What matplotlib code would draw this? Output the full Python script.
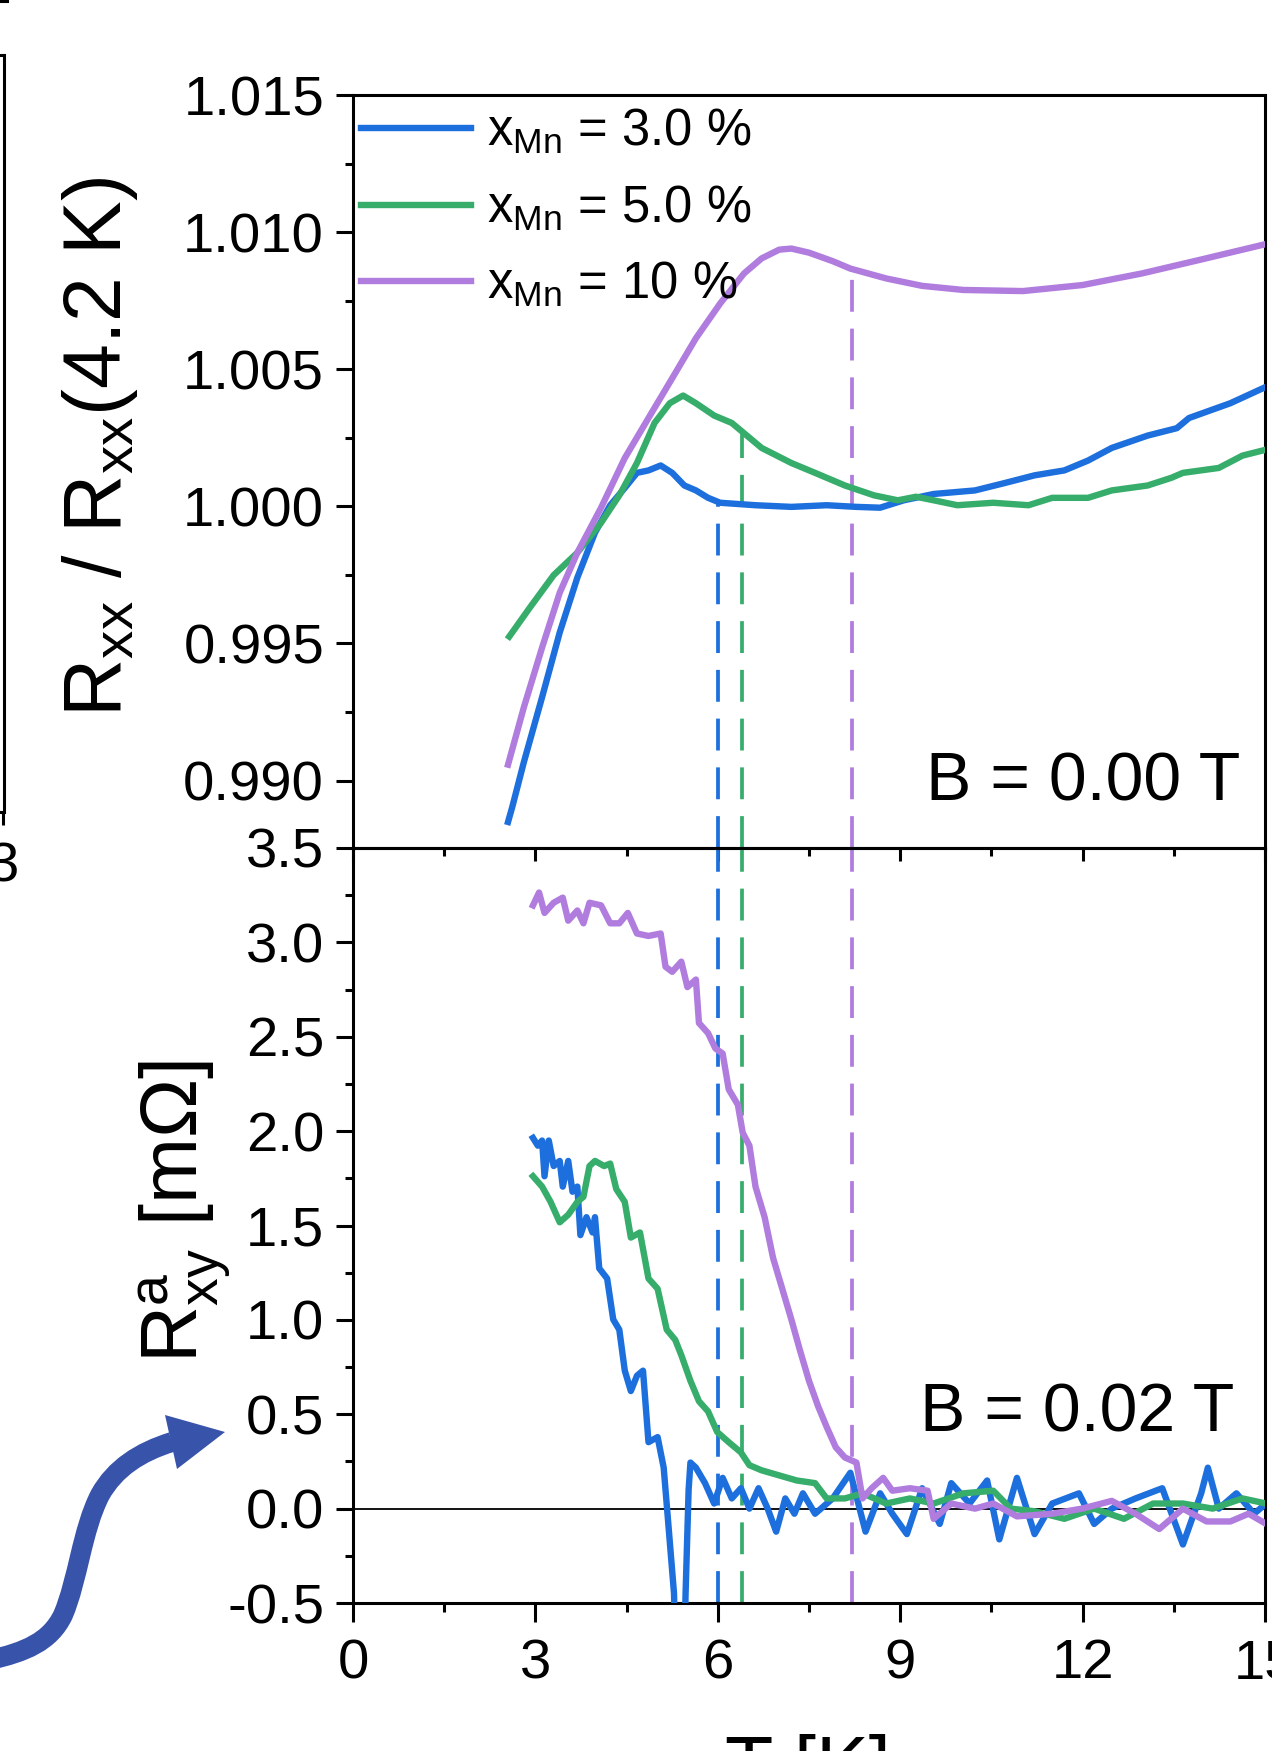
import numpy as np
import matplotlib
matplotlib.use('Agg')
import matplotlib.pyplot as plt
from matplotlib.path import Path
from matplotlib.patches import PathPatch, Polygon
from matplotlib.lines import Line2D
from matplotlib.ticker import FixedLocator, MultipleLocator, FormatStrFormatter

plt.rcParams['font.family'] = ['Liberation Sans', 'DejaVu Sans']
plt.rcParams['mathtext.fontset'] = 'custom'
plt.rcParams['mathtext.rm'] = 'Liberation Sans'
plt.rcParams['axes.unicode_minus'] = False

# ---------------- data ----------------
labels = [r'$\mathregular{x_{Mn}}$ = 3.0 %', r'$\mathregular{x_{Mn}}$ = 5.0 %', r'$\mathregular{x_{Mn}}$ = 10 %']
colors = ['#1c6fdc', '#37ad6b', '#b07cde']
Tc = [6.0, 6.4, 8.2]

# upper panel: Rxx / Rxx(4.2 K)
T_b_top = [2.55, 2.62, 2.81, 3.11, 3.40, 3.69, 3.98, 4.23, 4.47, 4.67, 4.86, 5.06, 5.25, 5.45, 5.64,
           5.84, 6.04, 6.62, 7.21, 7.79, 8.28, 8.67, 9.06, 9.55, 10.23, 10.72, 11.21, 11.70, 12.09,
           12.48, 13.07, 13.55, 13.75, 14.43, 14.97]
R_b_top = [0.98849, 0.98904, 0.99067, 0.99304, 0.99540, 0.99740, 0.99904, 1.00004, 1.00067, 1.00122,
           1.00131, 1.00149, 1.00122, 1.00076, 1.00058, 1.00031, 1.00013, 1.00004, 0.99998, 1.00004,
           0.99998, 0.99995, 1.00022, 1.00045, 1.00058, 1.00085, 1.00113, 1.00131, 1.00167, 1.00213,
           1.00258, 1.00285, 1.00322, 1.00376, 1.00431]

T_g_top = [2.57, 2.91, 3.30, 3.69, 4.08, 4.38, 4.67, 4.96, 5.21, 5.43, 5.64, 5.94, 6.23, 6.43, 6.72,
           7.21, 7.60, 8.09, 8.57, 8.96, 9.26, 9.55, 9.94, 10.53, 11.11, 11.50, 12.09, 12.48, 13.07,
           13.46, 13.65, 14.24, 14.63, 14.97]
R_g_top = [0.99525, 0.99631, 0.99749, 0.99831, 0.99940, 1.00040, 1.00158, 1.00304, 1.00376, 1.00404,
           1.00376, 1.00331, 1.00304, 1.00267, 1.00213, 1.00158, 1.00122, 1.00076, 1.00040, 1.00022,
           1.00035, 1.00022, 1.00004, 1.00013, 1.00004, 1.00031, 1.00031, 1.00058, 1.00076, 1.00104,
           1.00122, 1.00140, 1.00185, 1.00204]

T_p_top = [2.55, 2.81, 3.11, 3.40, 3.69, 4.08, 4.47, 4.86, 5.25, 5.64, 6.04, 6.43, 6.72, 7.01, 7.21,
           7.50, 7.89, 8.18, 8.77, 9.36, 10.04, 11.02, 12.00, 12.97, 13.95, 14.97]
R_p_top = [0.99058, 0.99267, 0.99485, 0.99685, 0.99831, 0.99995, 1.00176, 1.00322, 1.00467, 1.00613,
           1.00740, 1.00849, 1.00904, 1.00936, 1.00940, 1.00925, 1.00894, 1.00867, 1.00831, 1.00804,
           1.00789, 1.00785, 1.00807, 1.00849, 1.00900, 1.00954]

# lower panel: anomalous Hall resistance [mOhm]
T_b_bot = [2.96, 3.04, 3.11, 3.15, 3.22, 3.30, 3.40, 3.45, 3.54, 3.61, 3.69, 3.74, 3.84, 3.94, 3.98,
           4.05, 4.18, 4.28, 4.38, 4.47, 4.57, 4.67, 4.77, 4.86, 5.01, 5.11, 5.20, 5.28, 5.31, 5.44,
           5.47, 5.52, 5.55, 5.64, 5.79, 5.94, 6.08, 6.23, 6.38, 6.52, 6.67, 6.82, 6.96, 7.11, 7.26,
           7.40, 7.60, 7.89, 8.18, 8.43, 8.67, 8.87, 9.11, 9.36, 9.65, 9.84, 10.14, 10.43, 10.63,
           10.92, 11.21, 11.50, 11.94, 12.19, 12.48, 12.87, 13.31, 13.65, 13.95, 14.06, 14.24, 14.53,
           14.82, 15.02]
R_b_bot = [1.964, 1.923, 1.950, 1.761, 1.950, 1.815, 1.842, 1.706, 1.842, 1.679, 1.706, 1.449, 1.544,
           1.463, 1.544, 1.273, 1.219, 1.002, 0.948, 0.731, 0.623, 0.704, 0.731, 0.352, 0.379, 0.217,
           -0.135, -0.45, -0.9, -0.9, -0.45, 0.10, 0.244, 0.217, 0.135, 0.027, 0.163, 0.054, 0.108,
           0.000, 0.108, 0.000, -0.122, 0.054, -0.027, 0.081, -0.027, 0.054, 0.190, -0.122, 0.081,
           -0.027, -0.135, 0.108, -0.081, 0.135, 0.027, 0.149, -0.163, 0.163, -0.135, 0.027, 0.081,
           -0.081, 0.000, 0.054, 0.108, -0.190, 0.081, 0.217, 0.000, 0.081, -0.027, 0.027]

T_g_bot = [2.96, 3.11, 3.25, 3.40, 3.54, 3.69, 3.79, 3.89, 3.98, 4.13, 4.23, 4.33, 4.47, 4.57, 4.72,
           4.86, 5.01, 5.16, 5.30, 5.40, 5.55, 5.69, 5.84, 5.99, 6.18, 6.38, 6.52, 6.72, 7.01, 7.30,
           7.60, 7.79, 8.09, 8.38, 8.77, 9.16, 9.55, 10.04, 10.53, 10.82, 11.21, 11.70, 12.19, 12.68,
           13.16, 13.65, 14.14, 14.63, 15.02]
R_g_bot = [1.761, 1.706, 1.625, 1.517, 1.557, 1.625, 1.652, 1.815, 1.842, 1.815, 1.828, 1.693, 1.625,
           1.436, 1.463, 1.219, 1.165, 0.948, 0.894, 0.813, 0.677, 0.569, 0.515, 0.406, 0.352, 0.298,
           0.230, 0.203, 0.176, 0.149, 0.135, 0.054, 0.054, 0.081, 0.027, 0.054, 0.027, 0.081, 0.095,
           0.000, -0.014, -0.054, 0.000, -0.054, 0.027, 0.027, 0.000, 0.054, 0.027]

T_p_bot = [2.96, 3.06, 3.15, 3.30, 3.45, 3.54, 3.69, 3.79, 3.89, 4.08, 4.23, 4.38, 4.52, 4.67, 4.86,
           5.06, 5.14, 5.25, 5.40, 5.50, 5.64, 5.69, 5.84, 5.96, 6.08, 6.18, 6.33, 6.41, 6.52, 6.62,
           6.77, 6.91, 7.06, 7.21, 7.35, 7.50, 7.65, 7.79, 7.94, 8.09, 8.28, 8.38, 8.53, 8.72, 8.87,
           9.16, 9.45, 9.55, 9.84, 10.23, 10.53, 10.92, 11.50, 11.99, 12.48, 12.87, 13.26, 13.65,
           14.04, 14.43, 14.73, 15.02]
R_p_bot = [3.196, 3.264, 3.156, 3.210, 3.237, 3.115, 3.169, 3.101, 3.210, 3.196, 3.101, 3.101, 3.156,
           3.047, 3.034, 3.047, 2.871, 2.844, 2.898, 2.763, 2.803, 2.573, 2.519, 2.438, 2.411, 2.221,
           2.140, 1.991, 1.923, 1.706, 1.544, 1.327, 1.165, 1.002, 0.840, 0.677, 0.542, 0.433, 0.325,
           0.271, 0.244, 0.054, 0.108, 0.163, 0.095, 0.108, 0.095, -0.054, 0.027, 0.000, 0.027, -0.041,
           -0.027, 0.000, 0.041, -0.027, -0.108, 0.000, -0.068, -0.068, -0.027, -0.081]

top_series = [(T_b_top, R_b_top), (T_g_top, R_g_top), (T_p_top, R_p_top)]
bot_series = [(T_b_bot, R_b_bot), (T_g_bot, R_g_bot), (T_p_bot, R_p_bot)]

# ---------------- figure ----------------
W, H = 1272, 1751
fig = plt.figure(figsize=(W / 100, H / 100), dpi=100)


def fx(px):
    return px / W


def fy(py):
    return 1 - py / H


L, R = 353, 1265
ax_top = fig.add_axes([fx(L), fy(848), fx(R) - fx(L), fy(95) - fy(848)])
ax_bot = fig.add_axes([fx(L), fy(1603), fx(R) - fx(L), fy(848) - fy(1603)])
ax_bot.patch.set_visible(False)

LW = 4.6
DLW = 2.7
for ax in (ax_top, ax_bot):
    for s in ax.spines.values():
        s.set_linewidth(2.2)
    ax.tick_params(which='both', direction='out', width=2.2, labelsize=40.5,
                   top=False, right=False)
    ax.tick_params(axis='y', which='major', length=12.2, pad=8.6)
    ax.tick_params(axis='y', which='minor', length=5.5)
    ax.set_xlim(0, 15)
    ax.xaxis.set_major_locator(MultipleLocator(3))
    ax.xaxis.set_minor_locator(MultipleLocator(1.5))

ax_top.tick_params(axis='x', which='major', length=9.4, labelbottom=False)
ax_top.tick_params(axis='x', which='minor', length=5.8)
ax_bot.tick_params(axis='x', which='major', length=13.5, pad=12)
ax_bot.tick_params(axis='x', which='minor', length=6.5)

# top panel
ax_top.set_ylim(0.98754, 1.015)
ax_top.yaxis.set_major_locator(FixedLocator([0.990, 0.995, 1.000, 1.005, 1.010, 1.015]))
ax_top.yaxis.set_minor_locator(FixedLocator([0.9925, 0.9975, 1.0025, 1.0075, 1.0125]))
ax_top.yaxis.set_major_formatter(FormatStrFormatter('%.3f'))

for (t, r), c, lab in zip(top_series, colors, labels):
    ax_top.plot(t, r, color=c, lw=LW, label=lab, zorder=3, solid_joinstyle='round')
for (t, r), c, tc in zip(top_series, colors, Tc):
    ystart = np.interp(tc, t, r)
    ax_top.plot([tc, tc], [ax_top.get_ylim()[0], ystart], color=c, lw=DLW,
                dashes=(8.5, 4.5), zorder=2)

ax_top.legend(loc='upper left', bbox_to_anchor=(-0.0079, 1.0034), frameon=False, fontsize=36.5,
              handlelength=2.16, handletextpad=0.33, labelspacing=0.53,
              borderaxespad=0.0, borderpad=0.3)
ax_top.text(14.6, 0.98926, 'B = 0.00 T', fontsize=49, ha='right', va='baseline')

# bottom panel
ax_bot.set_ylim(-0.5, 3.5)
ax_bot.yaxis.set_major_locator(FixedLocator(np.arange(-0.5, 3.51, 0.5)))
ax_bot.yaxis.set_minor_locator(FixedLocator(np.arange(-0.25, 3.3, 0.5)))
ax_bot.yaxis.set_major_formatter(FormatStrFormatter('%.1f'))
ax_bot.axhline(0, color='black', lw=1.3, zorder=1)
for (t, r), c in zip(bot_series, colors):
    ax_bot.plot(t, r, color=c, lw=LW, zorder=3, solid_joinstyle='round')
for c, tc in zip(colors, Tc):
    ax_bot.plot([tc, tc], [-0.5, 3.5], color=c, lw=DLW, dashes=(8.5, 4.5), zorder=2)
ax_bot.text(14.49, 0.406, 'B = 0.02 T', fontsize=49, ha='right', va='baseline')

# axis labels
fig.text(fx(120.6), fy(447), r'$\mathregular{R_{xx}}$ / $\mathregular{R_{xx}}$(4.2 K)',
         fontsize=58, rotation=90, rotation_mode='anchor', ha='center', va='baseline')
fig.text(fx(197.7), fy(1212), r'$\mathregular{R^{a}_{xy}}$ [mΩ]',
         fontsize=57, rotation=90, rotation_mode='anchor', ha='center', va='baseline')
fig.text(fx(808), fy(1792), 'T [K]', fontsize=57, ha='center', va='baseline')

# partially visible neighbouring panel on the left
ax_left = fig.add_axes([-0.3, fy(812), fx(3.5) + 0.3, fy(55) - fy(812)])
for s in ax_left.spines.values():
    s.set_linewidth(2.2)
ax_left.set_xlim(0, 3)
ax_left.set_xticks([3])
ax_left.set_xticklabels(['3'])
ax_left.set_yticks([])
ax_left.tick_params(axis='x', direction='out', length=9.4, width=2.2, labelsize=40.5, pad=12)
fig.add_artist(Line2D([0, fx(7)], [fy(1.5), fy(1.5)], transform=fig.transFigure,
                      color='black', lw=2.2))

# curved arrow
pts = [(-10, 1660), (25, 1652), (50, 1642), (63, 1615),
       (78, 1580), (82, 1530), (100, 1495),
       (115, 1468), (140, 1452), (172, 1442)]
codes = [Path.MOVETO] + [Path.CURVE4] * 9
path = Path([(fx(x), fy(y)) for x, y in pts], codes)
fig.add_artist(PathPatch(path, transform=fig.transFigure, fill=False,
                         edgecolor='#3853aa', lw=14.4, capstyle='butt'))
head = [(225, 1432), (165, 1415), (177, 1469)]
fig.add_artist(Polygon([(fx(x), fy(y)) for x, y in head], closed=True,
                       transform=fig.transFigure, facecolor='#3853aa', edgecolor='none'))

fig.savefig('out.png', dpi=100)
